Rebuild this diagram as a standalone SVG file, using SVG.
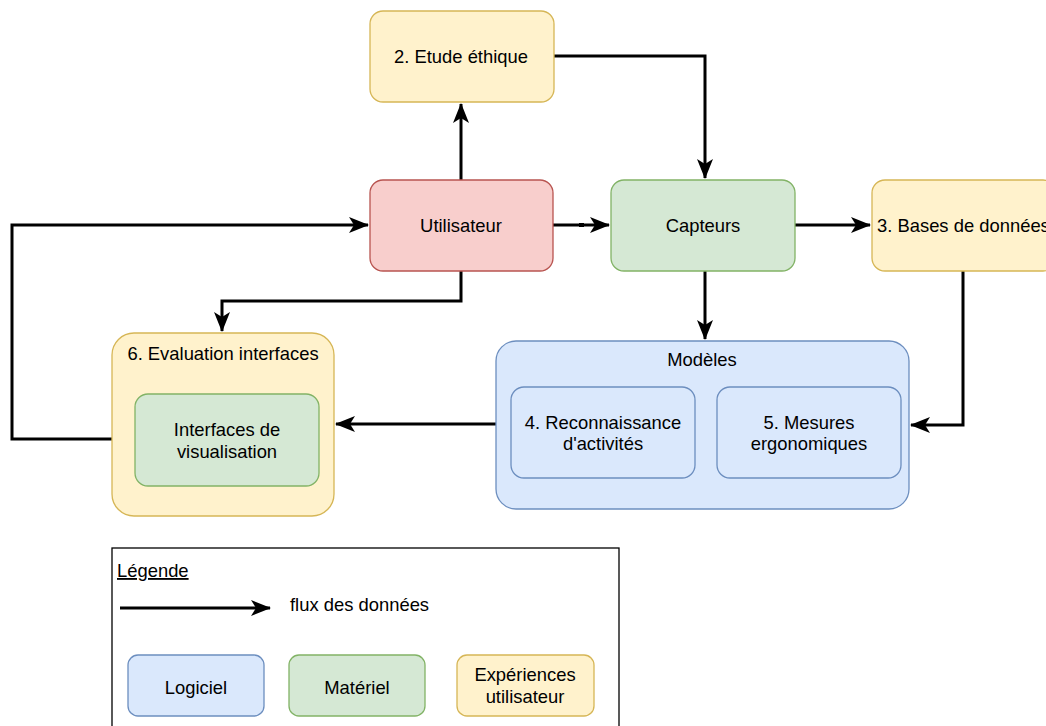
<svg xmlns="http://www.w3.org/2000/svg" width="1046" height="726" viewBox="0 0 1046 726">
<defs>
<style>
text{font-family:"Liberation Sans",Arial,sans-serif;font-size:18.4px;fill:#000;text-anchor:middle}
.y{fill:#fff2cc;stroke:#d6b656;stroke-width:1.3}
.r{fill:#f8cecc;stroke:#b85450;stroke-width:1.3}
.g{fill:#d5e8d4;stroke:#82b366;stroke-width:1.3}
.b{fill:#dae8fc;stroke:#6c8ebf;stroke-width:1.3}
.c{fill:none;stroke:#000;stroke-width:3}
</style>
<marker id="ah" viewBox="0 0 20 16" refX="19" refY="8" markerWidth="20" markerHeight="16" markerUnits="userSpaceOnUse" orient="auto">
<path d="M0,0 L20,8 L0,16 L5,8 Z" fill="#000"/>
</marker>
</defs>
<rect width="1046" height="726" fill="#fff"/>
<g id="connectors">
<path class="c" d="M461,180 V104" marker-end="url(#ah)"/>
<path class="c" d="M554,56 H705 V178" marker-end="url(#ah)"/>
<path class="c" d="M553,225 H609" marker-end="url(#ah)"/>
<rect x="579" y="223" width="5" height="4" fill="#000"/>
<path class="c" d="M795,225 H870" marker-end="url(#ah)"/>
<path class="c" d="M705,271 V339" marker-end="url(#ah)"/>
<path class="c" d="M963,271 V425 H911" marker-end="url(#ah)"/>
<path class="c" d="M496,424 H336" marker-end="url(#ah)"/>
<path class="c" d="M461,271 V301 H222 V331" marker-end="url(#ah)"/>
<path class="c" d="M135,439 H12 V225 H368" marker-end="url(#ah)"/>
</g>
<g id="etude"><rect class="y" x="370" y="11" width="184" height="91" rx="13"/><text x="461" y="63">2. Etude éthique</text></g>
<g id="utilisateur"><rect class="r" x="370" y="180" width="183" height="91" rx="13"/><text x="461" y="232">Utilisateur</text></g>
<g id="capteurs"><rect class="g" x="611" y="180" width="184" height="91" rx="13"/><text x="703" y="232">Capteurs</text></g>
<g id="bases"><rect class="y" x="872" y="180" width="184" height="91" rx="13"/><text x="877" y="232" style="text-anchor:start">3. Bases de données</text></g>
<g id="modeles"><rect class="b" x="496" y="341" width="413" height="168" rx="20"/><text x="702" y="366">Modèles</text></g>
<g id="reconnaissance"><rect class="b" x="511" y="387" width="184" height="91" rx="13"/><text x="603" y="429">4. Reconnaissance</text><text x="603" y="450">d'activités</text></g>
<g id="mesures"><rect class="b" x="717" y="387" width="184" height="91" rx="13"/><text x="809" y="429">5. Mesures</text><text x="809" y="450">ergonomiques</text></g>
<g id="evaluation"><rect class="y" x="112" y="333" width="222" height="183" rx="22"/><text x="223" y="360">6. Evaluation interfaces</text></g>
<g id="interfaces"><rect class="g" x="135" y="394" width="184" height="92" rx="13"/><text x="227" y="436">Interfaces de</text><text x="227" y="458">visualisation</text></g>
<g id="legende">
<rect x="112" y="548" width="507" height="190" fill="#fff" stroke="#000" stroke-width="1.3"/>
<text x="117" y="577" style="text-anchor:start;text-decoration:underline">Légende</text>
<path class="c" d="M120,608 H270" marker-end="url(#ah)"/>
<text x="290" y="611" style="text-anchor:start">flux des données</text>
</g>
<g id="logiciel"><rect class="b" x="128" y="655" width="136" height="61" rx="10"/><text x="196" y="694">Logiciel</text></g>
<g id="materiel"><rect class="g" x="289" y="655" width="136" height="61" rx="10"/><text x="357" y="694">Matériel</text></g>
<g id="experiences"><rect class="y" x="457" y="655" width="137" height="61" rx="10"/><text x="525" y="681">Expériences</text><text x="525" y="703">utilisateur</text></g>
</svg>
